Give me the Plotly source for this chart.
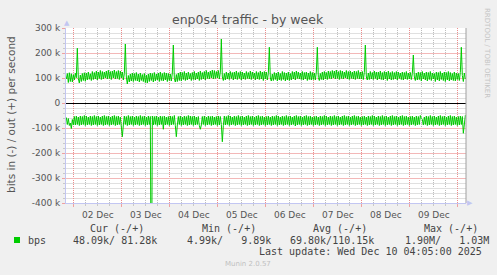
import plotly.graph_objects as go
from datetime import datetime, timedelta

# ---------------- data ----------------
T_START = datetime(2025, 12, 1, 20, 15)   # first 30-minute sample
STEP_MINUTES = 30
X_RANGE = ["2025-12-01 20:05", "2025-12-10 04:05"]

# out (+) traffic, k bits per second, one value per 30 minutes
out_k = [
    96, 118, 82, 121, 86, 117, 84, 113,                 # 01 Dec 20:00-23:30
    # 02 Dec
    92, 119, 101, 219, 97, 80, 112, 86,
    118, 90, 121, 87, 120, 92, 124, 95,
    117, 90, 126, 94, 122, 96, 128, 92,
    124, 98, 130, 94, 126, 96, 124, 100,
    128, 96, 131, 98, 126, 94, 128, 100,
    132, 96, 126, 98, 130, 94, 128, 100,
    # 03 Dec
    124, 92, 118, 236, 104, 76, 110, 84,
    116, 88, 120, 86, 118, 90, 122, 88,
    116, 84, 120, 90, 114, 86, 118, 82,
    112, 80, 116, 86, 120, 90, 118, 84,
    122, 88, 116, 92, 120, 86, 124, 90,
    118, 88, 122, 92, 120, 86, 118, 90,
    # 04 Dec
    116, 88, 120, 232, 98, 84, 114, 86,
    120, 90, 124, 88, 122, 94, 126, 90,
    120, 92, 124, 96, 118, 90, 122, 94,
    126, 92, 120, 96, 124, 90, 128, 94,
    122, 96, 126, 92, 130, 98, 124, 96,
    128, 100, 132, 96, 130, 98, 126, 100,
    # 05 Dec
    130, 96, 124, 256, 104, 90, 118, 92,
    124, 96, 120, 94, 126, 98, 122, 92,
    124, 96, 128, 94, 122, 98, 126, 92,
    124, 96, 120, 94, 126, 98, 122, 96,
    128, 94, 124, 98, 120, 92, 126, 96,
    122, 94, 128, 96, 124, 90, 126, 96,
    # 06 Dec
    124, 92, 118, 223, 100, 88, 116, 90,
    122, 94, 120, 88, 124, 92, 118, 90,
    126, 94, 122, 88, 120, 92, 124, 90,
    118, 92, 126, 96, 124, 92, 128, 98,
    124, 96, 120, 94, 126, 92, 122, 96,
    124, 90, 120, 94, 126, 92, 122, 94,
    # 07 Dec
    120, 92, 124, 223, 102, 90, 118, 94,
    124, 92, 126, 96, 122, 94, 128, 98,
    126, 96, 130, 100, 128, 96, 132, 98,
    126, 94, 130, 98, 128, 96, 124, 100,
    130, 96, 126, 94, 128, 98, 124, 96,
    128, 94, 126, 98, 130, 96, 124, 96,
    # 08 Dec
    126, 94, 122, 232, 104, 92, 120, 94,
    126, 96, 122, 94, 128, 98, 124, 92,
    124, 96, 128, 94, 122, 92, 126, 96,
    124, 90, 128, 96, 122, 92, 126, 94,
    122, 96, 126, 92, 124, 98, 120, 94,
    124, 92, 122, 96, 126, 94, 120, 96,
    # 09 Dec
    122, 94, 118, 192, 104, 90, 120, 92,
    124, 94, 122, 88, 126, 96, 120, 92,
    124, 88, 122, 94, 126, 90, 120, 96,
    118, 86, 124, 92, 122, 88, 126, 94,
    120, 90, 124, 86, 122, 92, 126, 88,
    122, 92, 118, 90, 124, 88, 120, 94,
    # 10 Dec 00:00-04:00
    118, 90, 122, 223, 110, 86, 120, 96, 102,
]

# in (-) traffic, k bits per second (drawn below zero)
in_k = [
    58, 86, 62, 90, 80, 102, 66, 88,                    # 01 Dec 20:00-23:30
    # 02 Dec
    54, 88, 52, 86, 56, 90, 52, 88,
    54, 86, 50, 90, 52, 88, 56, 86,
    52, 90, 54, 88, 50, 86, 54, 90,
    52, 88, 56, 86, 52, 90, 50, 88,
    54, 86, 52, 90, 56, 88, 52, 86,
    50, 90, 54, 88, 52, 86, 56, 90,
    # 03 Dec
    135, 88, 52, 86, 54, 90, 50, 88,
    54, 86, 52, 90, 56, 88, 52, 86,
    54, 90, 50, 88, 54, 86, 52, 90,
    56, 88, 52, 86, 54, 950, 52, 88,
    54, 86, 52, 90, 56, 88, 52, 86,
    54, 105, 52, 88, 56, 86, 54, 90,
    # 04 Dec
    52, 88, 54, 86, 50, 90, 135, 88,
    54, 86, 52, 90, 56, 88, 52, 86,
    54, 90, 50, 88, 52, 86, 54, 90,
    52, 88, 56, 86, 54, 90, 105, 88,
    54, 86, 52, 90, 56, 88, 52, 86,
    54, 90, 52, 88, 56, 86, 54, 90,
    # 05 Dec
    52, 88, 54, 86, 155, 90, 52, 88,
    54, 86, 50, 90, 52, 88, 56, 86,
    52, 90, 54, 88, 50, 86, 54, 90,
    52, 88, 56, 86, 52, 90, 50, 88,
    54, 86, 52, 90, 56, 88, 52, 86,
    50, 90, 54, 88, 52, 86, 56, 90,
    # 06 Dec
    54, 88, 52, 86, 56, 90, 52, 88,
    54, 86, 50, 90, 52, 88, 56, 86,
    52, 90, 54, 88, 50, 86, 54, 90,
    52, 88, 56, 86, 52, 92, 50, 88,
    54, 86, 52, 90, 56, 88, 52, 86,
    50, 90, 54, 88, 52, 86, 56, 90,
    # 07 Dec
    54, 88, 52, 86, 56, 90, 52, 88,
    54, 86, 50, 90, 52, 88, 56, 86,
    52, 90, 54, 88, 50, 86, 54, 90,
    52, 88, 56, 86, 52, 90, 50, 88,
    54, 86, 52, 90, 56, 88, 52, 86,
    50, 90, 54, 88, 52, 86, 56, 90,
    # 08 Dec
    54, 88, 52, 86, 56, 90, 52, 88,
    54, 86, 50, 90, 52, 88, 56, 86,
    52, 90, 54, 88, 50, 86, 54, 90,
    52, 88, 56, 86, 52, 90, 50, 88,
    54, 86, 52, 90, 56, 88, 52, 86,
    50, 90, 54, 88, 52, 86, 56, 90,
    # 09 Dec
    54, 88, 52, 86, 56, 90, 52, 88,
    54, 86, 50, 62, 66, 88, 56, 86,
    52, 90, 54, 88, 50, 86, 54, 90,
    52, 88, 56, 86, 52, 90, 50, 88,
    54, 86, 52, 90, 56, 88, 52, 86,
    50, 90, 54, 88, 52, 86, 56, 90,
    # 10 Dec 00:00-04:00
    54, 88, 52, 86, 54, 121, 70, 50, 46,
]

y_tick_vals = [300, 200, 100, 0, -100, -200, -300, -400]
y_tick_text = ["300 k", "200 k", "100 k", "0", "-100 k", "-200 k", "-300 k", "-400 k"]
y_minor_vals = [280, 260, 240, 220, 180, 160, 140, 120, 80, 60, 40, 20,
                -20, -40, -60, -80, -120, -140, -160, -180, -220, -240, -260, -280,
                -320, -340, -360, -380]
x_days = ["2025-12-01", "2025-12-02", "2025-12-03", "2025-12-04", "2025-12-05",
          "2025-12-06", "2025-12-07", "2025-12-08", "2025-12-09", "2025-12-10"]
x_minor_hours = ["06:00", "12:00", "18:00"]

series_name = "bps"
legend_headers = ["Cur (-/+)", "Min (-/+)", "Avg (-/+)", "Max (-/+)"]
legend_values = ["48.09k/ 81.28k", "4.99k/   9.89k", "69.80k/110.15k", "1.90M/   1.03M"]
last_update = "Last update: Wed Dec 10 04:05:00 2025"
title_text = "enp0s4 traffic - by week"
y_title = "bits in (-) / out (+) per second"
side_text = "RRDTOOL / TOBI OETIKER"
footer_text = "Munin 2.0.57"

# ---------------- layout constants ----------------
W, H = 497, 275
L, R, T, B = 66, 31, 28, 72
PW, PH = W - L - R, H - T - B
GREEN = "#00CC00"
MAJOR = "#ec8c8c"
MINOR = "#bdbdbd"
MAJOR_H = "#f3b8b8"
MINOR_H = "#e0e0e0"
AXIS = "#c2c6f2"
SANS = "DejaVu Sans"
MONO = "DejaVu Sans Mono"
DASH = "1px,1px"


def px(x):
    return (x - L) / PW


def py(y):
    return (T + PH - y) / PH


times = [T_START + timedelta(minutes=STEP_MINUTES * i) for i in range(len(out_k))]
in_neg = [-v for v in in_k]
x_minor_vals = [d + " " + h for d in x_days for h in x_minor_hours]

fig = go.Figure()
fig.add_trace(go.Scatter(x=times, y=out_k, mode="lines",
                         line=dict(color=GREEN, width=1), hoverinfo="skip"))
fig.add_trace(go.Scatter(x=times, y=in_neg, mode="lines",
                         line=dict(color=GREEN, width=1), hoverinfo="skip"))


def ann(text, x, y, size, color, family=SANS, xanchor="left", angle=0):
    fig.add_annotation(text=text.replace(" ", "\u00a0"), x=px(x), y=py(y),
                       xref="paper", yref="paper", showarrow=False,
                       xanchor=xanchor, yanchor="middle", textangle=angle,
                       font=dict(family=family, size=size, color=color),
                       borderpad=0)


ann(title_text, 248, 19, 12.5, "#555555", xanchor="center")
ann(y_title, 11, 115, 10.5, "#555555", xanchor="center", angle=-90)
ann(side_text, 487, 53, 7, "#c4c4c4", xanchor="center", angle=90)
ann(footer_text, 248, 264, 7, "#c0c0c0", xanchor="center")

header_left = [89, 200.5, 312, 423]
value_left = [72, 186, 288.5, 403.5]
for h, xl in zip(legend_headers, header_left):
    ann(h, xl, 228, 10, "#444444", MONO)
for v, xl in zip(legend_values, value_left):
    ann(v, xl, 240, 10, "#444444", MONO)
ann(series_name, 27, 240, 10, "#444444", MONO)
ann(last_update, 483, 251.5, 10, "#444444", MONO, xanchor="right")

# legend swatch
fig.add_shape(type="rect", xref="paper", yref="paper",
              x0=px(14), x1=px(20), y0=py(243), y1=py(237),
              fillcolor=GREEN, line=dict(width=0))
# right frame line of the graph area
fig.add_shape(type="line", xref="paper", yref="paper",
              x0=1, x1=1, y0=0, y1=1, line=dict(color="#a0a0a0", width=1))

# axis arrows
ann("\u25B2", 66.5, 23, 7, AXIS, xanchor="center")
ann("\u25B6", 470, 203, 7, AXIS, xanchor="center")

fig.update_layout(
    width=W, height=H,
    margin=dict(l=L, r=R, t=T, b=B, pad=0),
    paper_bgcolor="#F0F0F0", plot_bgcolor="#FFFFFF",
    showlegend=False,
    xaxis=dict(
        type="date", range=X_RANGE,
        tickmode="linear", tick0=x_days[0], dtick=86400000,
        ticklabelmode="period", tickformat="%d %b",
        showgrid=True, gridcolor=MAJOR, griddash=DASH, gridwidth=1,
        minor=dict(tickmode="array", tickvals=x_minor_vals,
                   showgrid=True, gridcolor=MINOR, griddash=DASH, gridwidth=1,
                   ticks="outside", ticklen=2, tickcolor="#c8c8c8"),
        ticks="outside", ticklen=3, tickcolor="#f0a0a0",
        showline=True, linecolor=AXIS, linewidth=1,
        zeroline=False,
        tickfont=dict(family=SANS, size=9, color="#555555"),
        fixedrange=True,
    ),
    yaxis=dict(
        range=[-400, 300], tickmode="array",
        tickvals=y_tick_vals, ticktext=y_tick_text,
        showgrid=True, gridcolor=MAJOR_H, gridwidth=1,
        minor=dict(tickmode="array", tickvals=y_minor_vals,
                   showgrid=True, gridcolor=MINOR_H, gridwidth=1,
                   ticks="outside", ticklen=2, tickcolor="#c8c8c8"),
        ticks="outside", ticklen=3, tickcolor="#f0a0a0",
        zeroline=True, zerolinecolor="#000000", zerolinewidth=1.2,
        showline=True, linecolor=AXIS, linewidth=1,
        tickfont=dict(family=SANS, size=9, color="#555555"),
        fixedrange=True,
    ),
)

fig.write_html("out.html", config={"displayModeBar": False})
